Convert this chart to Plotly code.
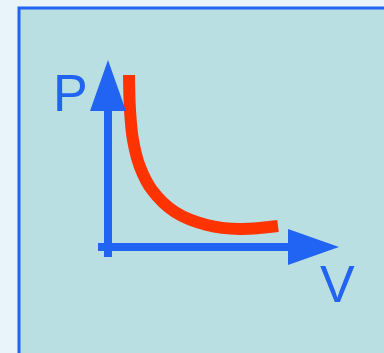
import plotly.graph_objects as go

# P-V diagram (isotherm), units are arbitrary, origin at the axis corner
volume = [21, 22, 25, 32, 44, 67, 99, 132, 170]
pressure = [172, 137, 107, 80, 57, 35, 22, 18, 21]
axis_labels = ["P", "V"]

BLUE = "#2163f2"
RED = "#ff3300"

fig = go.Figure()
fig.add_trace(
    go.Scatter(
        x=volume,
        y=pressure,
        mode="lines",
        line=dict(color=RED, width=12, shape="spline", smoothing=1.0),
        hoverinfo="skip",
    )
)

shapes = [
    # panel
    dict(type="rect", x0=-89, y0=239, x1=290, y1=-120,
         fillcolor="#b9dfe2", line=dict(color=BLUE, width=3), layer="below"),
    # P axis
    dict(type="line", x0=0, y0=-10, x1=0, y1=140, line=dict(color=BLUE, width=8)),
    dict(type="path", path="M -18 136 L 0 187 L 18 136 Z",
         fillcolor=BLUE, line=dict(width=0)),
    # V axis
    dict(type="line", x0=-10, y0=0, x1=184, y1=0, line=dict(color=BLUE, width=8)),
    dict(type="path", path="M 180 18 L 231 0 L 180 -18 Z",
         fillcolor=BLUE, line=dict(width=0)),
]

fig.update_layout(
    width=384,
    height=353,
    margin=dict(l=0, r=0, t=0, b=0),
    paper_bgcolor="#e8f4fa",
    plot_bgcolor="rgba(0,0,0,0)",
    showlegend=False,
    shapes=shapes,
    xaxis=dict(range=[-108, 276], visible=False, fixedrange=True),
    yaxis=dict(range=[-106, 247], visible=False, fixedrange=True),
    font=dict(family="Liberation Sans, Arial, sans-serif", color=BLUE),
    annotations=[
        dict(x=-38, y=154, text=axis_labels[0], showarrow=False,
             font=dict(size=52), xanchor="center", yanchor="middle"),
        dict(x=229.5, y=-37, text=axis_labels[1], showarrow=False,
             font=dict(size=52), xanchor="center", yanchor="middle"),
    ],
)

# drop the default page margin so the figure sits at the window corner
fig.write_html(
    "out.html",
    config={"displayModeBar": False},
    post_script="document.body.style.margin='0';document.body.style.overflow='hidden';",
)
